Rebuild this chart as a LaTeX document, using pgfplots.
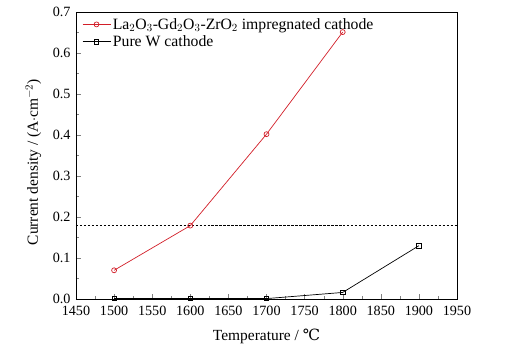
\documentclass[border=0pt]{standalone}
\usepackage{pgfplots}
\pgfplotsset{compat=1.18}
\usepackage{fontspec}
\setmainfont{Liberation Serif}
\newfontfamily\dejavuserif{DejaVu Serif}
\definecolor{myred}{RGB}{210,30,40}
\pgfplotsset{longlegend/.style={legend image code/.code={\draw[mark repeat=2,mark phase=2,##1] plot coordinates {(0bp,0bp) (14bp,0bp) (28bp,0bp)};}}}
\begin{document}
\begin{tikzpicture}
\begin{axis}[
  scale only axis, width=381bp, height=287bp,
  at={(0,0)}, anchor=south west,
  xmin=1450, xmax=1950, ymin=0, ymax=0.7,
  xtick={1450,1500,...,1950},
  ytick={0,0.1,...,0.7},
  minor x tick num=1, minor y tick num=1,
  tick align=inside,
  xtick pos=bottom, ytick pos=left,
  major tick length=5bp, minor tick length=3bp,
  /pgf/number format/assume math mode=true,
  x tick label style={/pgf/number format/set thousands separator={}, yshift=-4bp},
  yticklabel style={/pgf/number format/fixed, /pgf/number format/fixed zerofill, /pgf/number format/precision=1, xshift=-2bp},
  scaled y ticks=false,
  tick label style={font=\fontsize{14.2}{16}\selectfont, black},
  label style={font=\fontsize{15.5}{17}\selectfont},
  xlabel={Temperature / {\dejavuserif ℃}},
  ylabel={Current density / (A$\cdot$cm$^{-2}$)},
  xlabel style={at={(axis description cs:0.5,-0.129)}, anchor=center},
  ylabel style={at={(axis description cs:-0.112,0.477)}, anchor=center},
  axis line style={black, line width=0.9pt},
  legend style={draw=none, fill=none, at={(axis description cs:0.0,1.0)}, anchor=north west, xshift=4bp, yshift=-2bp, font=\fontsize{15.8}{17}\selectfont, row sep=1pt, inner sep=2pt},
  legend cell align=left,
]
\addplot[color=myred, line width=0.7pt, mark=o, mark size=2.5pt, mark options={solid}, longlegend] coordinates {
(1500,0.070) (1600,0.179) (1700,0.402) (1800,0.651)};
\addlegendentry{La$_2$O$_3$-Gd$_2$O$_3$-ZrO$_2$ impregnated cathode}
\addplot[black, line width=0.7pt, mark=square, mark size=2.2pt, longlegend] coordinates {
(1500,0.001) (1600,0.001) (1700,0.001) (1800,0.016) (1900,0.130)};
\addlegendentry{Pure W cathode}
\addplot[black, dash pattern=on 2.5pt off 1.5pt, line width=0.6pt, forget plot] coordinates {(1450,0.18) (1950,0.18)};
\end{axis}
\pgfresetboundingbox
\path[use as bounding box] (-76bp,-58bp) rectangle (435bp,299bp);
\end{tikzpicture}
\end{document}
